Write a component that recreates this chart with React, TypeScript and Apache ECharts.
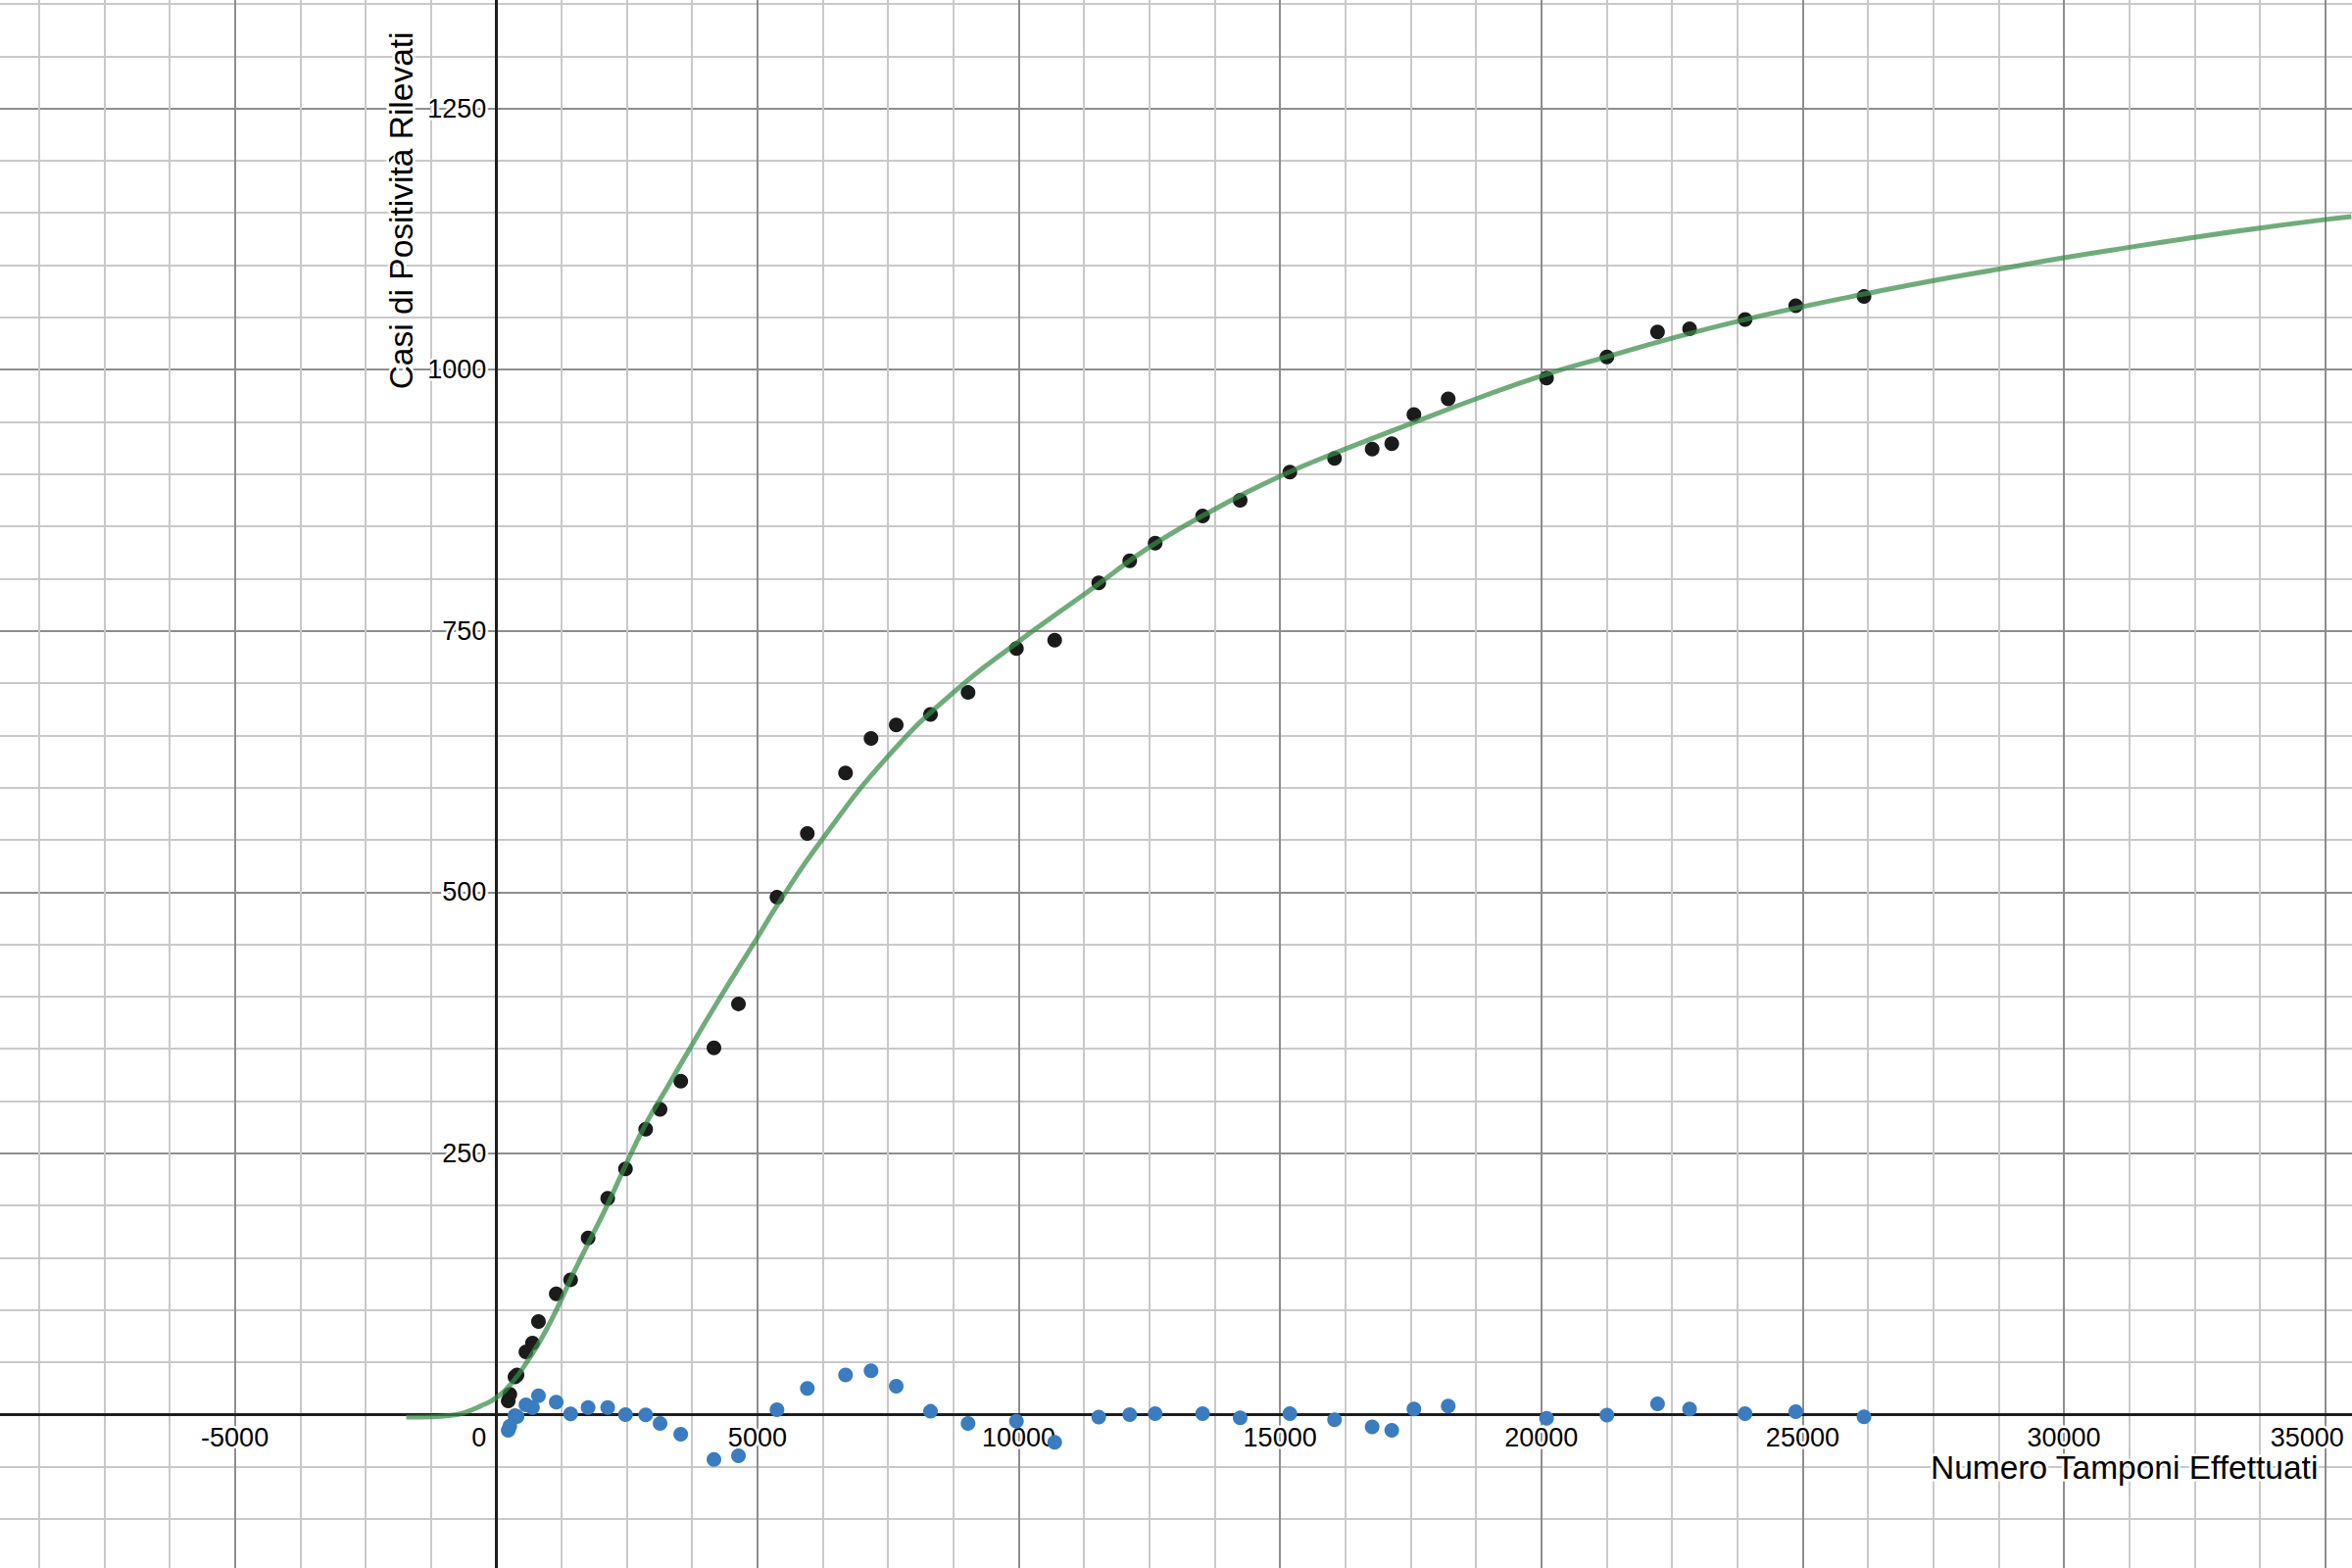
import React, { useEffect, useRef } from 'react';
import * as echarts from 'echarts';

const FONT = '"Liberation Sans", Arial, Helvetica, sans-serif';

// Observed data: number of tests (x) vs cumulative positives (y)
const testsX = [231, 262, 360, 400, 570, 695, 810, 1150, 1425, 1760, 2135, 2475, 2862, 3137, 3533, 4168, 4637, 5374, 5955, 6686, 7174, 7656, 8312, 9030, 9956, 10688, 11531, 12124, 12611, 13519, 14237, 15188, 16043, 16763, 17138, 17562, 18218, 20100, 21255, 22224, 22837, 23899, 24868, 26175];
const positives = [13, 19.5, 36, 38, 60, 68.5, 89, 115.5, 129, 169, 207, 235, 273, 292, 319, 351, 393, 495, 556, 614, 647, 660, 670, 691, 733, 741, 796, 817, 834, 860, 875, 902, 915, 924, 929, 957, 972, 992, 1012, 1036, 1039, 1048, 1061, 1070];
// Residuals (blue points) at the same x positions
const residuals = [-15, -11, -1, -2, 9.4, 6.8, 18, 11.8, 0.6, 6.8, 6.8, 0, -0.3, -8.5, -18.8, -43, -39.5, 4.7, 25, 38, 42, 27.2, 3.1, -8.5, -6.3, -26.6, -2.5, 0, 0.9, 0.9, -3.1, 0.9, -5, -11.9, -15, 5.3, 8.1, -3.5, -0.6, 10.3, 5.3, 0.9, 2.8, -2.2];

// Fitted curve (green)
const curveX = [-1720, -1250, -900, -626, -313, 0, 311, 624, 937, 1265, 1437, 1624, 2124, 2481, 2874, 3249, 3750, 4249, 4981, 5374, 6218, 7500, 8749, 9975, 10749, 11531, 12499, 13736, 14999, 16249, 17486, 18750, 20000, 21231, 22500, 23738, 24981, 26250, 27488, 28737, 30000, 31250, 32488, 33750, 34988, 35500];
const curveY = [-2.5, -2.2, -1, 1.5, 7.8, 16, 31, 53, 79, 112, 131, 150, 200, 239, 279, 311, 354, 396, 455, 487, 549, 630, 691, 739, 767, 795, 830, 866, 898, 924, 948, 972, 994, 1012, 1030, 1046, 1060, 1073, 1085, 1096, 1107, 1117, 1126.5, 1135.5, 1143.5, 1146.5];

// Axis settings
const X_MIN = -10000;
const X_MAX = 36000;
const X_STEP = 5000;
const Y_MIN = -250;
const Y_MAX = 1500;
const Y_STEP = 250;
// x tick labels that are nudged left (to sit beside the y axis / stay inside the page)
const X_LABEL_NUDGE: Record<number, string> = { 0: 'z', 35000: 'e' };

const X_TITLE = 'Numero Tamponi Effettuati';
const Y_TITLE = 'Casi di Positività Rilevati';

// Layout: the plot is larger than the page so that the visible window is x∈[-9500,35500], y∈[-147,1354]
const PAGE_W = 2400;
const PAGE_H = 1600;
const OX = 26.67; // hidden part on the left
const OY = 155.9; // hidden part on the top
const CW = 2453.33;
const CH = 1865.7;
const ZERO_X = 533.33; // pixel of x=0 inside the chart container
const ZERO_Y = 1599.2; // pixel of y=0 inside the chart container

export default function App() {
  const ref = useRef<HTMLDivElement>(null);

  useEffect(() => {
    if (!ref.current) return;
    const chart = echarts.init(ref.current, null, { renderer: 'svg' });

    const labelBase = {
      color: '#000',
      fontSize: 27,
      fontFamily: FONT,
      textBorderColor: '#fff',
      textBorderWidth: 5,
    };

    chart.setOption({
      animation: false,
      backgroundColor: '#fff',
      grid: { left: 0, right: 0, top: 0, bottom: 0, containLabel: false, outerBoundsMode: 'none' },
      xAxis: {
        type: 'value',
        position: 'bottom',
        offset: -(CH - ZERO_Y),
        min: X_MIN,
        max: X_MAX,
        interval: X_STEP,
        axisLine: { show: true, onZero: false, lineStyle: { color: '#1e1e1e', width: 3 } },
        axisTick: { show: false },
        minorTick: { show: false, splitNumber: 4 },
        splitLine: { show: true, lineStyle: { color: '#8e8e8e', width: 2 } },
        minorSplitLine: { show: true, lineStyle: { color: '#c9c9c9', width: 2 } },
        axisLabel: {
          ...labelBase,
          margin: 10,
          showMinLabel: false,
          showMaxLabel: false,
          formatter: (v: number) => (X_LABEL_NUDGE[v] ? `{${X_LABEL_NUDGE[v]}|${v}}` : String(v)),
          rich: {
            z: { ...labelBase, padding: [0, 35, 0, 0] },
            e: { ...labelBase, padding: [0, 37, 0, 0] },
          },
        },
      },
      yAxis: {
        type: 'value',
        position: 'left',
        offset: -ZERO_X,
        min: Y_MIN,
        max: Y_MAX,
        interval: Y_STEP,
        axisLine: { show: true, onZero: false, lineStyle: { color: '#1e1e1e', width: 3 } },
        axisTick: { show: false },
        minorTick: { show: false, splitNumber: 5 },
        splitLine: { show: true, lineStyle: { color: '#8e8e8e', width: 2 } },
        minorSplitLine: { show: true, lineStyle: { color: '#c9c9c9', width: 2 } },
        axisLabel: {
          ...labelBase,
          margin: 10,
          showMinLabel: false,
          showMaxLabel: false,
          formatter: (v: number) => (v === 0 ? '' : String(v)),
        },
      },
      series: [
        {
          type: 'scatter',
          name: 'Positivi',
          data: testsX.map((x, i) => [x, positives[i]]),
          symbolSize: 15,
          itemStyle: { color: '#1b1b1b', opacity: 1 },
          z: 3,
        },
        {
          type: 'scatter',
          name: 'Residui',
          data: testsX.map((x, i) => [x, residuals[i]]),
          symbolSize: 15,
          itemStyle: { color: '#3a7cbf', opacity: 1 },
          z: 3,
        },
        {
          type: 'line',
          name: 'Modello',
          data: curveX.map((x, i) => [x, curveY[i]]),
          showSymbol: false,
          smooth: 0.5,
          lineStyle: { color: '#388c46', width: 5, opacity: 0.72 },
          z: 4,
        },
      ],
      graphic: [
        {
          type: 'text',
          x: 410 + OX,
          y: 215 + OY,
          rotation: Math.PI / 2,
          z: 10,
          style: {
            text: Y_TITLE,
            fontSize: 33.5,
            fontFamily: FONT,
            fill: '#000',
            align: 'center',
            verticalAlign: 'middle',
            stroke: '#fff',
            lineWidth: 5,
          },
        },
        {
          type: 'text',
          x: 2168 + OX,
          y: 1498 + OY,
          z: 10,
          style: {
            text: X_TITLE,
            fontSize: 33.5,
            fontFamily: FONT,
            fill: '#000',
            align: 'center',
            verticalAlign: 'middle',
            stroke: '#fff',
            lineWidth: 5,
          },
        },
      ],
    });

    return () => chart.dispose();
  }, []);

  return (
    <div
      style={{
        position: 'fixed',
        left: 0,
        top: 0,
        width: PAGE_W,
        height: PAGE_H,
        overflow: 'hidden',
        background: '#fff',
      }}
    >
      <div
        ref={ref}
        style={{ position: 'absolute', left: -OX, top: -OY, width: CW, height: CH }}
      />
    </div>
  );
}
